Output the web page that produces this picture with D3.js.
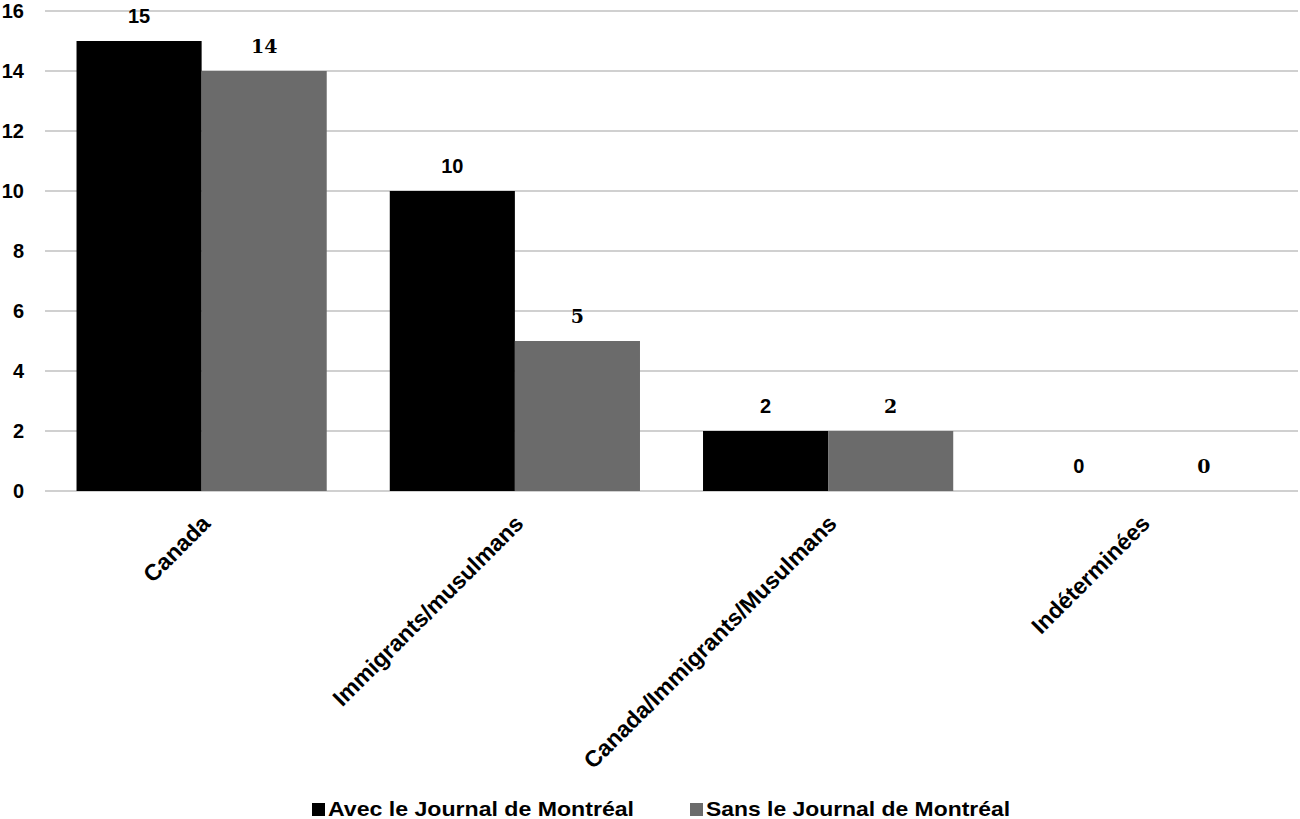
<!DOCTYPE html>
<html><head><meta charset="utf-8">
<script src="https://cdn.jsdelivr.net/npm/d3@7"></script>
<style>body{margin:0;background:#fff}svg{display:block}</style>
</head><body>
<svg id="c" width="1300" height="819"></svg>
<script>
const categories = ["Canada","Immigrants/musulmans","Canada/Immigrants/Musulmans","Indéterminées"];
const seriesNames = ["Avec le Journal de Montréal","Sans le Journal de Montréal"];
const avecValues = [15,10,2,0];
const sansValues = [14,5,2,0];
const yTicks = [0,2,4,6,8,10,12,14,16];
const colors = ["#000000","#6b6b6b"];

(function(){
const svg = d3.select("#c");
const mLeft = 45, mRight = 1298, mTop = 11, mBottom = 491;
const x = d3.scaleBand().domain(categories).range([mLeft,mRight]).paddingInner(0).paddingOuter(0);
const x1 = d3.scaleBand().domain([0,1]).range([0, x.bandwidth()]).paddingInner(0).paddingOuter(0.252);
const y = d3.scaleLinear().domain([0,16]).range([mBottom, mTop]);

svg.append("g").selectAll("line").data(yTicks).join("line")
  .attr("x1", mLeft).attr("x2", mRight)
  .attr("y1", d=>y(d)).attr("y2", d=>y(d))
  .attr("stroke", "#d0d0d0").attr("stroke-width", 2);

const yAxis = d3.axisLeft(y).tickValues(yTicks).tickSize(0).tickPadding(0);
const ga = svg.append("g").attr("transform", `translate(${mLeft-21},0)`).call(yAxis);
ga.select(".domain").remove();
ga.selectAll("text").attr("font-family","Liberation Sans, Arial, sans-serif")
  .attr("font-weight","bold").attr("font-size",20).attr("fill","#000");

const series = [avecValues, sansValues];
series.forEach((vals,si)=>{
  svg.append("g").selectAll("rect").data(categories).join("rect")
    .attr("x", (c)=>x(c)+x1(si))
    .attr("width", x1.bandwidth())
    .attr("y", (c,i)=>y(vals[i]))
    .attr("height", (c,i)=>y(0)-y(vals[i]))
    .attr("fill", colors[si]);
  svg.append("g").selectAll("text").data(categories).join("text")
    .attr("x", (c)=>x(c)+x1(si)+x1.bandwidth()/2)
    .attr("y", (c,i)=>y(vals[i])-18)
    .attr("text-anchor","middle")
    .attr("font-family", si===0 ? "Liberation Sans, Arial, sans-serif" : "DejaVu Serif, Liberation Serif, serif")
    .attr("font-weight","bold").attr("font-size", si===0 ? 20 : 19)
    .text((c,i)=>vals[i]);
});

const xAxis = d3.axisBottom(x).tickSize(0).tickPadding(0);
const gx = svg.append("g").attr("transform", `translate(0,${mBottom})`).call(xAxis);
gx.select(".domain").remove();
gx.selectAll("text")
  .attr("font-family","Liberation Sans, Arial, sans-serif")
  .attr("font-weight","bold").attr("font-size",23).attr("fill","#000")
  .attr("text-anchor","end").attr("dy",null).attr("y",0)
  .attr("transform","translate(10,34) rotate(-45)");

const legX = [312, 690];
const legW = [306, 304];
const lg = svg.append("g");
seriesNames.forEach((n,i)=>{
  lg.append("rect").attr("x", legX[i]).attr("y", 803).attr("width", 13).attr("height", 13).attr("fill", colors[i]);
  lg.append("text").attr("x", legX[i]+16).attr("y", 816)
    .attr("font-family","Liberation Sans, Arial, sans-serif")
    .attr("font-weight","bold").attr("font-size",21)
    .attr("textLength", legW[i]).attr("lengthAdjust","spacingAndGlyphs")
    .text(n);
});
})();
</script>
</body></html>
